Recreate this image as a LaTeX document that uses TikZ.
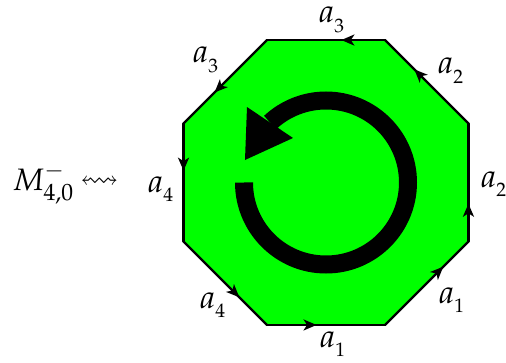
\documentclass[tikz,border=0pt]{standalone}
\usepackage{amssymb}
\usepackage{mathpazo}
\usetikzlibrary{arrows.meta,decorations.markings}
\newcommand\edgelab[1]{$a_{\raisebox{-1.3pt}{$\scriptscriptstyle #1$}}$}
\begin{document}
\begin{tikzpicture}[x=1pt,y=1pt,
  octedge/.style={line width=2.4pt, line cap=round,
    postaction={decorate,decoration={markings,
      mark=at position #1 with {\arrow{Stealth[length=13pt,width=11pt,inset=3.5pt]}}}}},
  lab/.style={anchor=base west, inner sep=0pt, scale=3.25, transform shape},
  leftlab/.style={anchor=base west, inner sep=0pt, scale=3.1, transform shape}]
\useasboundingbox (-326,-179.5) rectangle (180,182.5);
% vertices of the regular octagon
\foreach \i in {0,...,7} {\coordinate (v\i) at ({22.5+45*\i}:154.2);}
\fill[green] (v0)--(v1)--(v2)--(v3)--(v4)--(v5)--(v6)--(v7)--cycle;
% edges with orientation marks
\draw[octedge=0.37] (v1) -- (v2);
\draw[octedge=0.65] (v0) -- (v1);
\draw[octedge=0.32] (v7) -- (v0);
\draw[octedge=0.70] (v6) -- (v7);
\draw[octedge=0.42] (v5) -- (v6);
\draw[octedge=0.67] (v4) -- (v5);
\draw[octedge=0.40] (v3) -- (v4);
\draw[octedge=0.63] (v2) -- (v3);
% circular arrow
\coordinate (c) at (0,0);
\draw[line width=18pt] (c) ++(180:82) arc[start angle=180, end angle=493, radius=82];
\coordinate (h1) at (-79,75.5);
\coordinate (h2) at (-33,44.5);
\coordinate (h3) at (-81,22.5);
\fill (h1) -- (h2) -- (h3) -- cycle;
% edge labels
\node[lab] (l1) at (-8,159.5) {\edgelab{3}};
\node[lab] (l2) at (111,108.5) {\edgelab{2}};
\node[lab] (l3) at (154,-4.5) {\edgelab{2}};
\node[lab] (l4) at (112,-120.5) {\edgelab{1}};
\node[lab] (l5) at (-7,-165) {\edgelab{1}};
\node[lab] (l6) at (-127,-125.5) {\edgelab{4}};
\node[lab] (l7) at (-179,-9.5) {\edgelab{4}};
\node[lab] (l8) at (-134,119.5) {\edgelab{3}};
% left label
\node[leftlab] (m) at (-314,-7.5) {$M^-_{4,0}$};
\node[inner sep=0pt, scale=2.6, transform shape] (w) at (-226.5,0.5) {$\leftrightsquigarrow$};
\end{tikzpicture}
\end{document}
